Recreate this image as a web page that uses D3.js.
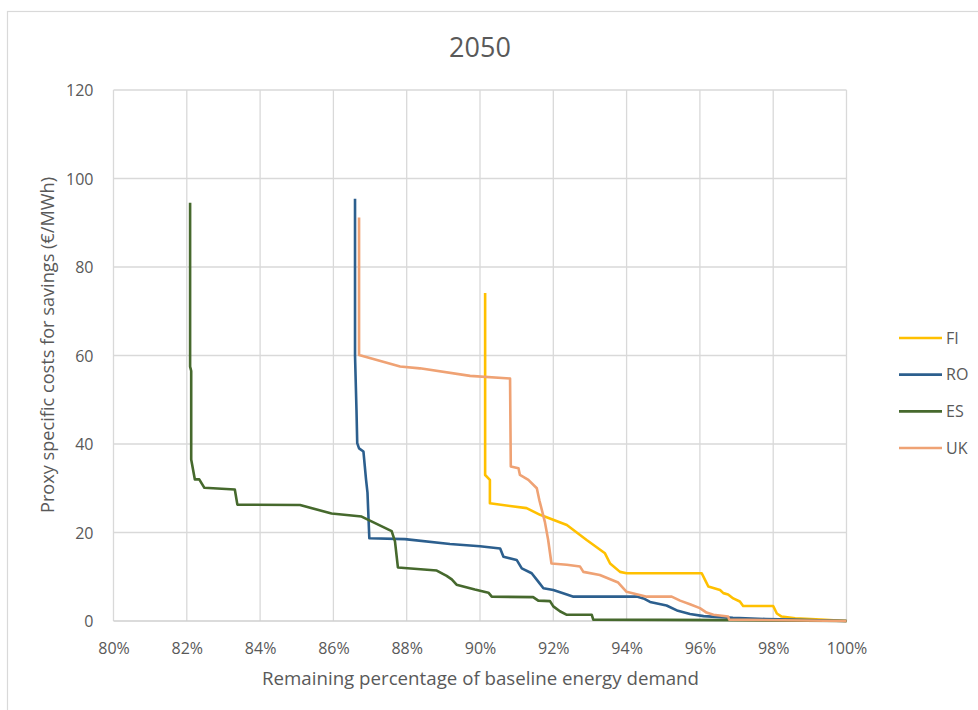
<!DOCTYPE html>
<html>
<head>
<meta charset="utf-8">
<script src="https://cdn.jsdelivr.net/npm/d3@7"></script>
<style>
  html, body { margin: 0; padding: 0; background: #fff; }
  svg { display: block; }
  text { font-family: "Open Sans", "Noto Sans", sans-serif; fill: #595959; }
</style>
</head>
<body>
<svg id="chart" width="978" height="710"></svg>
<script>
// Remaining share of baseline demand (%) vs. proxy specific saving cost (€/MWh)
const seriesNames = ["FI", "RO", "ES", "UK"];
const seriesColors = ["#FFC000", "#2C5F8E", "#46692D", "#EFA274"];

const fiPoints = [[90.14,74.1],[90.14,33],[90.27,31.9],[90.27,26.6],[91.27,25.5],[91.64,24],[92.37,21.7],[92.91,18.3],[93.41,15.3],[93.55,13],[93.82,11.1],[94.0,10.8],[96.05,10.8],[96.14,9.3],[96.23,7.8],[96.55,7.0],[96.64,6.3],[96.77,6.0],[96.91,5.1],[97.09,4.4],[97.18,3.4],[98.0,3.4],[98.1,1.7],[98.23,1.0],[98.6,0.6],[99.3,0.3],[100,0]];
const roPoints = [[86.59,95.4],[86.59,60],[86.63,47.7],[86.65,40.2],[86.7,39],[86.82,38.3],[86.89,32],[86.93,29],[86.98,18.7],[87.95,18.5],[89.18,17.4],[90.0,16.9],[90.55,16.4],[90.64,14.5],[91.0,13.8],[91.14,11.9],[91.41,10.8],[91.59,8.9],[91.73,7.4],[92.0,7.0],[92.37,6.0],[92.55,5.5],[94.3,5.5],[94.46,5.1],[94.64,4.3],[95.09,3.5],[95.4,2.3],[95.73,1.6],[96.1,1.1],[96.9,0.7],[97.8,0.45],[98.5,0.3],[100,0]];
const esPoints = [[82.09,94.5],[82.09,57.5],[82.12,56.5],[82.12,36.5],[82.22,32],[82.34,32],[82.48,30.1],[83.31,29.7],[83.38,26.3],[85.09,26.2],[85.95,24.3],[86.77,23.6],[87.59,20.3],[87.68,18],[87.76,12.1],[88.82,11.4],[89.09,10.2],[89.23,9.4],[89.36,8.2],[89.86,7.1],[90.23,6.4],[90.32,5.5],[91.45,5.4],[91.59,4.6],[91.91,4.5],[92.0,3.3],[92.18,2.2],[92.37,1.4],[93.05,1.4],[93.09,0.3],[96.8,0.2],[100,0]];
const ukPoints = [[86.7,91.2],[86.7,60.1],[87.82,57.5],[88.36,57.1],[89.73,55.4],[90.82,54.8],[90.84,34.9],[91.05,34.5],[91.09,33],[91.32,31.9],[91.55,30],[91.62,27.3],[91.77,22.4],[91.86,18.3],[91.95,13],[92.37,12.7],[92.73,12.3],[92.82,11.1],[93.27,10.4],[93.77,8.7],[94.0,6.6],[94.55,5.5],[95.23,5.5],[95.46,4.6],[95.73,3.8],[96.0,2.9],[96.18,1.9],[96.37,1.4],[96.77,1.0],[96.8,0.3],[100,0]];

const xTicks = [80, 82, 84, 86, 88, 90, 92, 94, 96, 98, 100];
const yTicks = [0, 20, 40, 60, 80, 100, 120];

const chartTitle = "2050";
const xTitle = "Remaining percentage of baseline energy demand";
const yTitle = "Proxy specific costs for savings (€/MWh)";

const allSeries = [fiPoints, roPoints, esPoints, ukPoints];

const svg = d3.select("#chart");

// chart frame
svg.append("rect")
  .attr("x", 7.5).attr("y", 11.5)
  .attr("width", 1000).attr("height", 720)
  .attr("fill", "#fff").attr("stroke", "#d9d9d9").attr("stroke-width", 1.2);

const plot = { left: 113.5, right: 846.5, top: 90, bottom: 621 };

const x = d3.scaleLinear().domain([80, 100]).range([plot.left, plot.right]);
const y = d3.scaleLinear().domain([0, 120]).range([plot.bottom, plot.top]);

// gridlines
const grid = svg.append("g");
grid.selectAll("line.v").data(xTicks).join("line")
  .attr("class", "v")
  .attr("x1", d => x(d)).attr("x2", d => x(d))
  .attr("y1", plot.top).attr("y2", plot.bottom)
  .attr("stroke", "#d9d9d9").attr("stroke-width", 1.3);
grid.selectAll("line.h").data(yTicks).join("line")
  .attr("class", "h")
  .attr("x1", plot.left).attr("x2", plot.right)
  .attr("y1", d => y(d)).attr("y2", d => y(d))
  .attr("stroke", d => d === 0 ? "#cfcfcf" : "#d9d9d9").attr("stroke-width", 1.3);

// axes (labels only, Excel-style)
const xAxis = svg.append("g")
  .attr("transform", `translate(0,${plot.bottom + 19})`)
  .call(d3.axisBottom(x).tickValues(xTicks).tickSize(0).tickFormat(d => d + "%"));
const yAxis = svg.append("g")
  .attr("transform", `translate(${plot.left - 17},0)`)
  .call(d3.axisLeft(y).tickValues(yTicks).tickSize(0).tickFormat(d3.format("d")));
[xAxis, yAxis].forEach(a => {
  a.select(".domain").remove();
  a.selectAll("text")
    .attr("fill", "#595959")
    .style("font-family", "'Open Sans', sans-serif")
    .style("font-size", "16px");
});
yAxis.selectAll("text").attr("dy", "0.36em");

// series lines
const line = d3.line().x(d => x(d[0])).y(d => y(d[1]));
svg.append("g").selectAll("path").data(allSeries).join("path")
  .attr("d", line)
  .attr("fill", "none")
  .attr("stroke", (d, i) => seriesColors[i])
  .attr("stroke-width", 2.6)
  .attr("stroke-linejoin", "round");

// titles
svg.append("text")
  .attr("x", 480).attr("y", 47).attr("dy", "0.36em")
  .attr("text-anchor", "middle")
  .style("font-size", "27px")
  .text(chartTitle);

svg.append("text")
  .attr("x", 480.5).attr("y", 678).attr("dy", "0.36em")
  .attr("text-anchor", "middle")
  .attr("textLength", 437).attr("lengthAdjust", "spacingAndGlyphs")
  .style("font-size", "19px")
  .text(xTitle);

svg.append("text")
  .attr("transform", "translate(47,345) rotate(-90)")
  .attr("dy", "0.36em")
  .attr("text-anchor", "middle")
  .attr("textLength", 336).attr("lengthAdjust", "spacingAndGlyphs")
  .style("font-size", "19px")
  .text(yTitle);

// legend
const legendY = d3.scalePoint().domain(seriesNames).range([338, 448]);
const legend = svg.append("g").selectAll("g").data(seriesNames).join("g")
  .attr("transform", d => `translate(0,${legendY(d)})`);
legend.append("line")
  .attr("x1", 899).attr("x2", 942).attr("y1", 0).attr("y2", 0)
  .attr("stroke", (d, i) => seriesColors[i]).attr("stroke-width", 2.6);
legend.append("text")
  .attr("x", 946).attr("y", 0).attr("dy", "0.36em")
  .style("font-size", "16px")
  .text(d => d);
</script>
</body>
</html>
